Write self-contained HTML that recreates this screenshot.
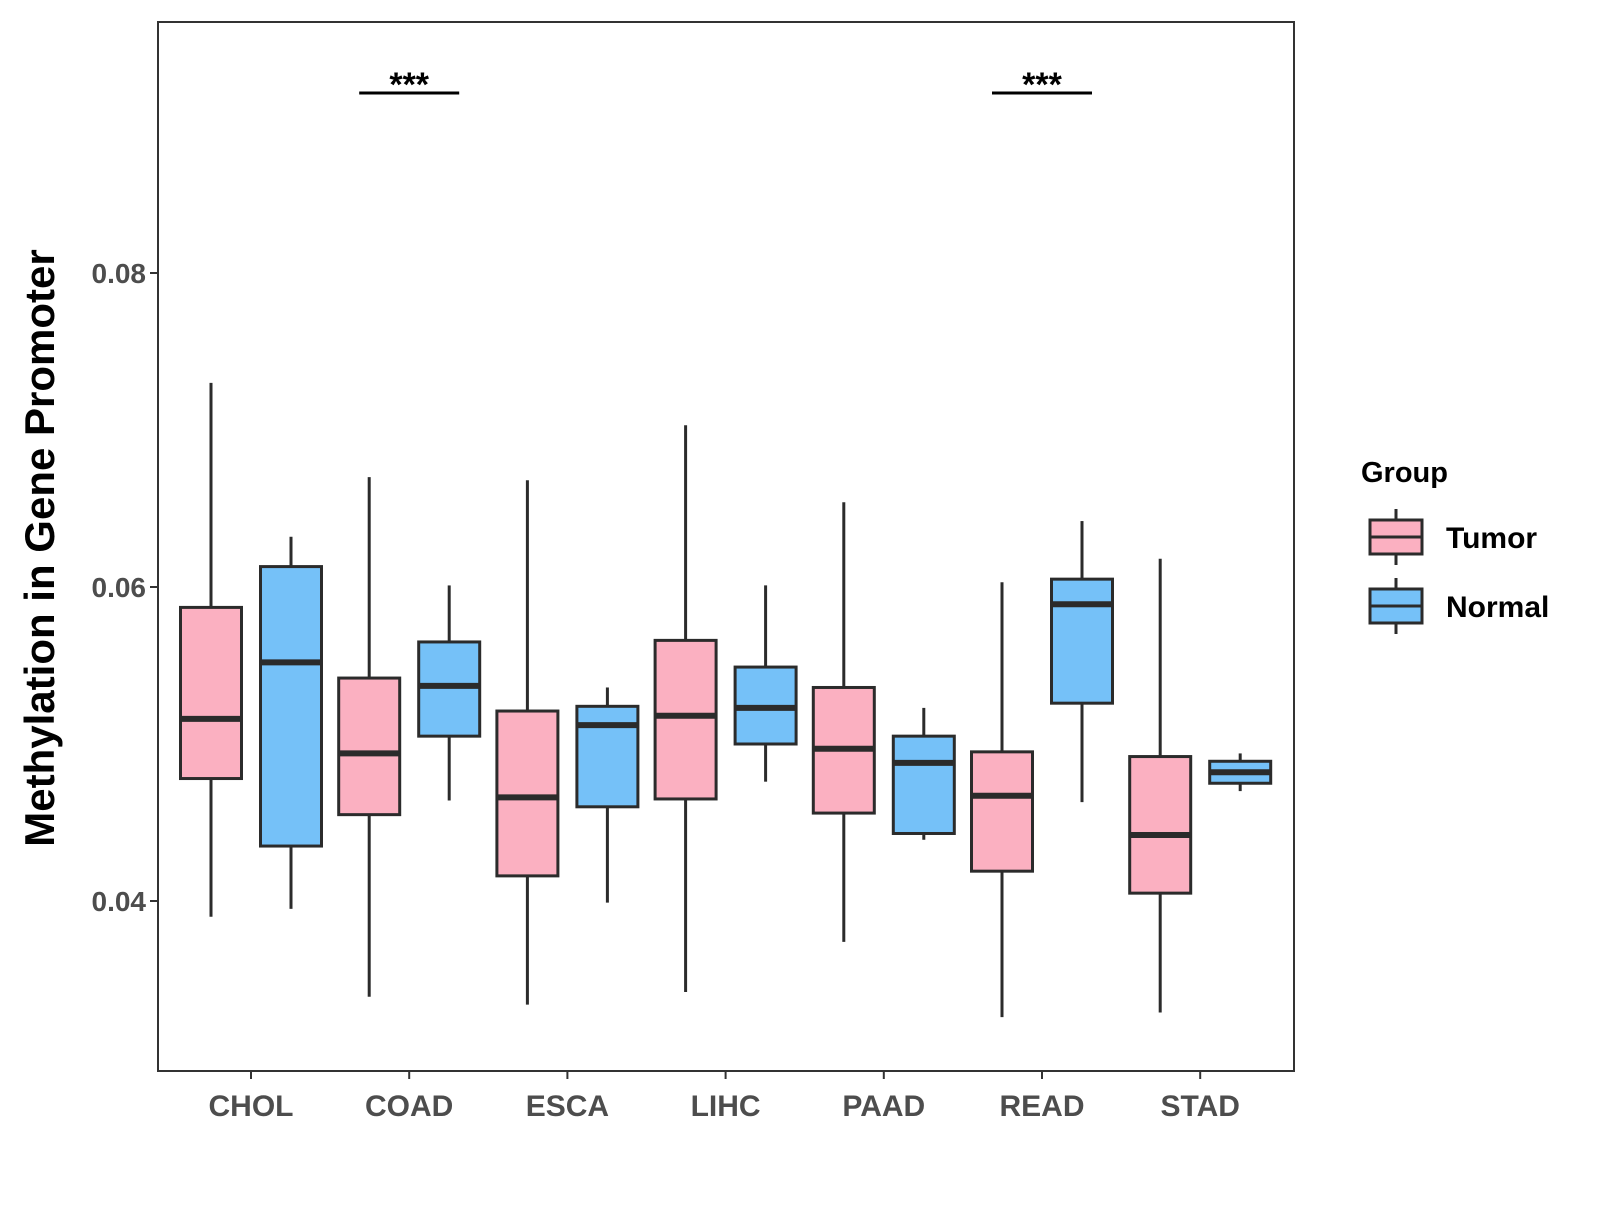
<!DOCTYPE html>
<html><head><meta charset="utf-8"><style>
body{margin:0;background:#fff}
svg text{font-family:"Liberation Sans",sans-serif;font-weight:bold}
</style></head><body>
<svg id="chart" width="1600" height="1200" viewBox="0 0 1600 1200" xmlns="http://www.w3.org/2000/svg">
<rect width="1600" height="1200" fill="#fff"/>
<g id="plot"></g>
</svg>
<script>
const categories=["CHOL","COAD","ESCA","LIHC","PAAD","READ","STAD"];
// [whiskerLow, Q1, median, Q3, whiskerHigh]
const tumorStats=[[0.0390,0.0478,0.0516,0.0587,0.0730],[0.0339,0.0455,0.0494,0.0542,0.0670],[0.0334,0.0416,0.0466,0.0521,0.0668],[0.0342,0.0465,0.0518,0.0566,0.0703],[0.0374,0.0456,0.0497,0.0536,0.0654],[0.0326,0.0419,0.0467,0.0495,0.0603],[0.0329,0.0405,0.0442,0.0492,0.0618]];
const normalStats=[[0.0395,0.0435,0.0552,0.0613,0.0632],[0.0464,0.0505,0.0537,0.0565,0.0601],[0.0399,0.0460,0.0512,0.0524,0.0536],[0.0476,0.0500,0.0523,0.0549,0.0601],[0.0439,0.0443,0.0488,0.0505,0.0523],[0.0463,0.0526,0.0589,0.0605,0.0642],[0.0470,0.0475,0.0482,0.0489,0.0494]];
const yTicks=[0.04,0.06,0.08];
const yTickLabels=["0.04","0.06","0.08"];
const significant=["COAD","READ"];
const sigLabel="***";

const L=158,T=22,R=1294,B=1071;
const y=v=>901-(v-0.04)*15700;
const x=i=>251+i*158.2;
const NS="http://www.w3.org/2000/svg";
const g=document.getElementById('plot');
function mk(tag,attrs,parent){const e=document.createElementNS(NS,tag);for(const k in attrs)e.setAttribute(k,attrs[k]);(parent||g).appendChild(e);return e;}

const frame=mk('rect',{x:L,y:T,width:R-L,height:B-T,fill:'none',stroke:'#333','stroke-width':2});



yTicks.forEach((t,i)=>{
  const tk=mk('line',{x1:L-8,x2:L,y1:y(t),y2:y(t),stroke:'#333','stroke-width':2});
  
  
  const tx=mk('text',{x:L-12,y:y(t)+10,'text-anchor':'end','font-size':28,fill:'#4d4d4d'});
  tx.textContent=yTickLabels[i];
  
  
});
categories.forEach((c,i)=>{
  const tk=mk('line',{x1:x(i),x2:x(i),y1:B,y2:B+8,stroke:'#333','stroke-width':2});
  
  
  const tx=mk('text',{x:x(i),y:B+45,'text-anchor':'middle','font-size':30,fill:'#4d4d4d'});
  tx.textContent=c;
  
  
});
function box(s,cx,fill,name){
  const bg=mk('g',{});
  
  
  const w=30.5;
  mk('line',{x1:cx,x2:cx,y1:y(s[0]),y2:y(s[1]),stroke:'#2b2b2b','stroke-width':3},bg);
  mk('line',{x1:cx,x2:cx,y1:y(s[3]),y2:y(s[4]),stroke:'#2b2b2b','stroke-width':3},bg);
  mk('rect',{x:cx-w,y:y(s[3]),width:2*w,height:y(s[1])-y(s[3]),fill:fill,stroke:'#2b2b2b','stroke-width':3},bg);
  mk('line',{x1:cx-w,x2:cx+w,y1:y(s[2]),y2:y(s[2]),stroke:'#2b2b2b','stroke-width':6},bg);
}
categories.forEach((c,i)=>{
  box(tumorStats[i],x(i)-40,'#fbb0c1','box-tumor-'+c.toLowerCase());
  box(normalStats[i],x(i)+40,'#75c1f8','box-normal-'+c.toLowerCase());
});
significant.forEach(c=>{
  const i=categories.indexOf(c);
  const ln=mk('line',{x1:x(i)-50,x2:x(i)+50,y1:93,y2:93,stroke:'#000','stroke-width':3});
  
  
  const tx=mk('text',{x:x(i),y:96,'text-anchor':'middle','font-size':34,fill:'#000'});
  tx.textContent=sigLabel;
  
  
});
const yt=mk('text',{x:0,y:0,transform:'translate(54,548) rotate(-90)','text-anchor':'middle','font-size':42,fill:'#000'});
yt.textContent='Methylation in Gene Promoter';



const lg=mk('g',{});


const lt=mk('text',{x:1361,y:482,'font-size':29,fill:'#000'},lg);
lt.textContent='Group';


[['Tumor','#fbb0c1',537],['Normal','#75c1f8',606]].forEach(([n,f,cy])=>{
  const e=mk('g',{},lg);
  
  
  mk('line',{x1:1396,x2:1396,y1:cy-28,y2:cy+28,stroke:'#2b2b2b','stroke-width':3},e);
  mk('rect',{x:1370,y:cy-17,width:52,height:34,fill:f,stroke:'#2b2b2b','stroke-width':3},e);
  mk('line',{x1:1370,x2:1422,y1:cy,y2:cy,stroke:'#2b2b2b','stroke-width':3},e);
  const t=mk('text',{x:1446,y:cy+11,'font-size':30,fill:'#000'},e);
  t.textContent=n;
});
</script>
</body></html>
